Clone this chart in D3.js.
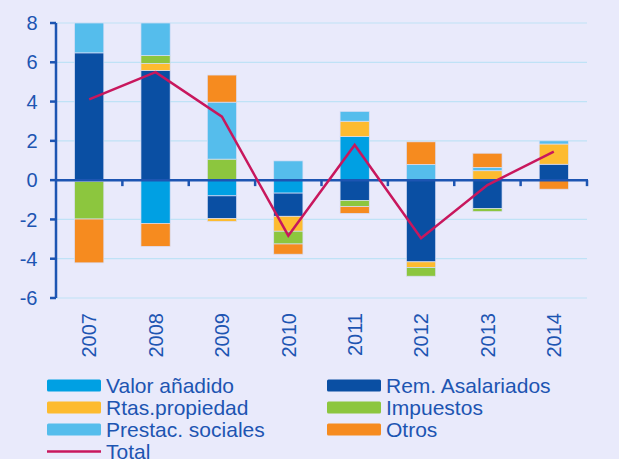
<!DOCTYPE html>
<html>
<head>
<meta charset="utf-8">
<script src="https://cdn.jsdelivr.net/npm/d3@7"></script>
<style>
  body { margin: 0; background: #e9eafb; }
  svg { display: block; font-family: "Liberation Sans", Arial, sans-serif; }
</style>
</head>
<body>
<svg></svg>
<script>
const years = ["2007", "2008", "2009", "2010", "2011", "2012", "2013", "2014"];
const seriesNames = ["Valor añadido", "Rem. Asalariados", "Rtas.propiedad", "Impuestos", "Prestac. sociales", "Otros"];
const valorAnadido    = [0, -2.2, -0.8, -0.66, 2.22, 0, 0, 0];
const remAsalariados  = [6.48, 5.58, -1.15, -1.18, -1.03, -4.16, -1.44, 0.81];
const rtasPropiedad   = [-0.07, 0.36, -0.15, -0.76, 0.78, -0.29, 0.48, 1.03];
const impuestos       = [-1.91, 0.41, 1.07, -0.65, -0.32, -0.44, -0.16, 0];
const prestacSociales = [1.52, 1.65, 2.9, 0.98, 0.5, 0.8, 0.17, 0.16];
const otros           = [-2.23, -1.17, 1.38, -0.52, -0.34, 1.15, 0.72, -0.46];
const total           = [4.11, 5.5, 3.23, -2.83, 1.79, -2.96, -0.25, 1.45];
const yTicks = [-6, -4, -2, 0, 2, 4, 6, 8];

const colors = ["#00a0e3", "#0a4fa3", "#fdbb2f", "#8cc63e", "#55bdec", "#f68b1f"];
const textColor = "#1d55b2";

const width = 619, height = 459;
const svg = d3.select("svg").attr("width", width).attr("height", height);

svg.append("rect").attr("width", width).attr("height", height).attr("fill", "#e9eafb");

const x = d3.scaleBand().domain(years).range([56, 587]).paddingInner(0.56).paddingOuter(0.28);
const y = d3.scaleLinear().domain([-6, 8]).range([298, 23]);

const table = years.map((yr, i) => ({
    year: yr,
    [seriesNames[0]]: valorAnadido[i],
    [seriesNames[1]]: remAsalariados[i],
    [seriesNames[2]]: rtasPropiedad[i],
    [seriesNames[3]]: impuestos[i],
    [seriesNames[4]]: prestacSociales[i],
    [seriesNames[5]]: otros[i]
}));

const stacked = d3.stack().keys(seriesNames).offset(d3.stackOffsetDiverging)(table);

// gridlines
svg.append("g")
    .selectAll("line")
    .data(yTicks.filter(d => d !== 0))
    .join("line")
    .attr("x1", 56).attr("x2", 587)
    .attr("y1", d => y(d)).attr("y2", d => y(d))
    .attr("stroke", "#bfe2f6")
    .attr("stroke-width", 1.2);

// bars
svg.append("g")
    .selectAll("g")
    .data(stacked)
    .join("g")
    .attr("fill", (d, i) => colors[i])
    .selectAll("rect")
    .data(d => d.filter(p => p[1] - p[0] !== 0))
    .join("rect")
    .attr("x", d => x(d.data.year))
    .attr("width", x.bandwidth())
    .attr("y", d => y(d[1]))
    .attr("height", d => y(d[0]) - y(d[1]))
    .attr("stroke", "#d9def6")
    .attr("stroke-width", 0.7);

// y axis
const yAxis = svg.append("g").attr("transform", "translate(56,0)");
yAxis.append("line")
    .attr("y1", y(8)).attr("y2", y(-6))
    .attr("stroke", textColor).attr("stroke-width", 2.5);
yAxis.selectAll(".tk")
    .data(yTicks)
    .join("line")
    .attr("x1", -6).attr("x2", 0)
    .attr("y1", d => y(d)).attr("y2", d => y(d))
    .attr("stroke", textColor).attr("stroke-width", 2.5);
yAxis.selectAll("text")
    .data(yTicks)
    .join("text")
    .attr("x", -18.5)
    .attr("y", d => y(d))
    .attr("dy", "0.36em")
    .attr("text-anchor", "end")
    .attr("fill", textColor)
    .attr("font-size", 20)
    .text(d => d);

// x axis at zero
const step = x.step();
const bounds = d3.range(years.length + 1).map(i => 56 + i * step);
svg.append("line")
    .attr("x1", 56).attr("x2", 588)
    .attr("y1", y(0)).attr("y2", y(0))
    .attr("stroke", textColor).attr("stroke-width", 2.5);
svg.append("g")
    .selectAll("line")
    .data(bounds.slice(1))
    .join("line")
    .attr("x1", d => d).attr("x2", d => d)
    .attr("y1", y(0)).attr("y2", y(0) + 6)
    .attr("stroke", textColor).attr("stroke-width", 2.5);

// year labels
svg.append("g")
    .selectAll("text")
    .data(years)
    .join("text")
    .attr("transform", d => `translate(${x(d) + x.bandwidth() / 2},313) rotate(-90)`)
    .attr("text-anchor", "end")
    .attr("dy", "0.36em")
    .attr("fill", textColor)
    .attr("font-size", 20)
    .text(d => d);

// total line
const line = d3.line()
    .x((d, i) => x(years[i]) + x.bandwidth() / 2)
    .y(d => y(d));
svg.append("path")
    .datum(total)
    .attr("d", line)
    .attr("fill", "none")
    .attr("stroke", "#c8175d")
    .attr("stroke-width", 2.5)
    .attr("stroke-linejoin", "miter");

// legend
const legendItems = seriesNames.map((n, i) => ({ name: n, color: colors[i], type: "rect" }))
    .concat([{ name: "Total", color: "#c8175d", type: "line" }]);
const legend = svg.append("g");
legendItems.forEach((d, i) => {
    const col = d.type === "line" ? 0 : i % 2;
    const row = d.type === "line" ? 3 : Math.floor(i / 2);
    const gx = col === 0 ? 47 : 327;
    const gy = 385.5 + row * 22;
    if (d.type === "rect") {
        legend.append("rect")
            .attr("x", gx).attr("y", gy - 6)
            .attr("width", 54).attr("height", 12)
            .attr("rx", 1.5)
            .attr("fill", d.color);
    } else {
        legend.append("line")
            .attr("x1", gx).attr("x2", gx + 54)
            .attr("y1", gy).attr("y2", gy)
            .attr("stroke", d.color).attr("stroke-width", 2.5);
    }
    legend.append("text")
        .attr("x", gx + 59)
        .attr("y", gy)
        .attr("dy", "0.36em")
        .attr("fill", textColor)
        .attr("font-size", 21)
        .text(d.name);
});
</script>
</body>
</html>
